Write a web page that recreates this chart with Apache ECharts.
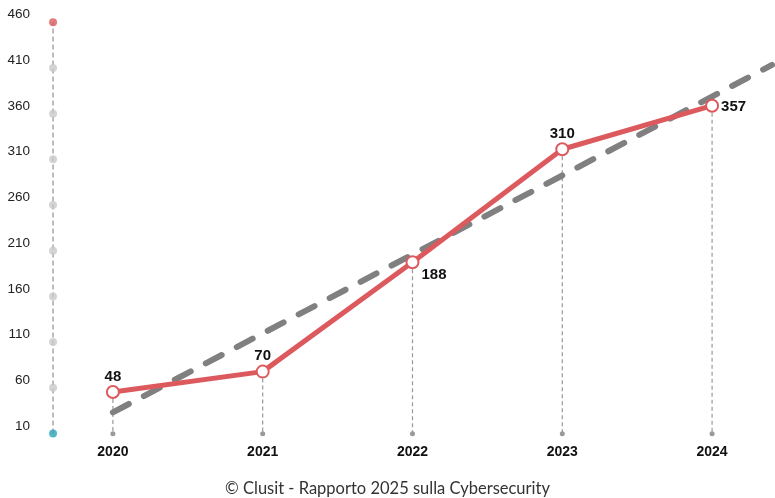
<!DOCTYPE html>
<html>
<head>
<meta charset="utf-8">
<script src="https://cdn.jsdelivr.net/npm/echarts@6/dist/echarts.min.js"></script>
<style>html,body{margin:0;padding:0;background:#fff;overflow:hidden;}#c{width:775px;height:498px;}</style>
</head>
<body>
<div id="c"></div>
<script>
var years = ['2020', '2021', '2022', '2023', '2024'];
var values = [48, 70, 188, 310, 357];
var trendPoints = [[0, 26], [4.4, 401]];
var yTicks = [10, 60, 110, 160, 210, 260, 310, 360, 410, 460];
var footer = '© Clusit - Rapporto 2025 sulla Cybersecurity';

var RED = '#dc5a5e', GRAY = '#808080', TEAL = '#2aa4ba', DOT = '#c9c9c9';
var FONT = 'Liberation Sans, Arial, sans-serif';
var labelPos = [
  {position: 'top', distance: 1},
  {position: 'top', distance: 1},
  {position: 'right', distance: 2, offset: [0, 13]},
  {position: 'top', distance: 1},
  {position: 'right', distance: 2, offset: [0, 1]}
];

var chart = echarts.init(document.getElementById('c'), null, {renderer: 'canvas', width: 775, height: 498});
var XMIN = -0.5, XMAX = 4.4;
var xBase = {type: 'value', min: XMIN, max: XMAX, show: false};
var gridBase = {left: 38, right: 0};

var dropSeries = values.map(function (v, i) {
  return {
    type: 'line', xAxisIndex: 0, yAxisIndex: 0, clip: false, silent: true,
    data: [{value: [i, v], symbol: 'none'}, {value: [i, 3], symbol: 'circle'}],
    symbolSize: 5,
    itemStyle: {color: '#999'},
    lineStyle: {color: '#999', width: 1.2, type: [4, 3]},
    z: 2
  };
});

chart.setOption({
  animation: false,
  grid: [
    Object.assign({top: 10.3, bottom: 70.8}, gridBase),   // data
    Object.assign({top: 14.5, bottom: 72}, gridBase),     // y labels
    Object.assign({top: 22.3, bottom: 64.5}, gridBase)    // dots
  ],
  xAxis: [
    {type: 'value', gridIndex: 0, min: XMIN, max: XMAX, interval: 0.5,
      axisLine: {show: false}, axisTick: {show: false}, splitLine: {show: false},
      axisLabel: {margin: 18, color: '#111', fontWeight: 'bold', fontSize: 14, fontFamily: FONT,
        formatter: function (v) { return (Number.isInteger(v) && years[v]) ? years[v] : ''; }}},
    Object.assign({gridIndex: 1}, xBase),
    Object.assign({gridIndex: 2}, xBase)
  ],
  yAxis: [
    {type: 'value', gridIndex: 0, min: 10, max: 460, show: false},
    {type: 'value', gridIndex: 1, min: 10, max: 460, interval: 50,
      axisLine: {show: false}, axisTick: {show: false}, splitLine: {show: false},
      axisLabel: {margin: 8, color: '#222', fontSize: 13.5, fontFamily: FONT}},
    {type: 'value', gridIndex: 2, min: 10, max: 460, show: false}
  ],
  series: [
    {
      type: 'line', xAxisIndex: 2, yAxisIndex: 2, silent: true,
      data: [[-0.4, yTicks[0]], [-0.4, yTicks[yTicks.length - 1]]],
      symbol: 'none',
      lineStyle: {color: '#999', width: 1.3, type: [5, 3]}
    },
    {
      type: 'scatter', xAxisIndex: 2, yAxisIndex: 2, silent: true,
      symbolSize: 8,
      data: yTicks.map(function (t, i) {
        var c = i === 0 ? TEAL : (i === yTicks.length - 1 ? RED : DOT);
        return {value: [-0.4, t], itemStyle: {color: c}};
      }),
      z: 5
    },
    {
      type: 'line', xAxisIndex: 0, yAxisIndex: 0, silent: true,
      data: trendPoints,
      symbol: 'none',
      lineStyle: {color: GRAY, width: 6, type: [18, 17], cap: 'round'},
      z: 3
    },
    {
      type: 'line', xAxisIndex: 0, yAxisIndex: 0, clip: false,
      data: values.map(function (v, i) {
        return {value: [i, v], label: Object.assign({show: true}, labelPos[i])};
      }),
      symbol: 'circle', symbolSize: 12,
      itemStyle: {color: '#fff', borderColor: RED, borderWidth: 2},
      lineStyle: {color: RED, width: 5},
      label: {color: '#111', fontWeight: 'bold', fontSize: 15, fontFamily: FONT},
      z: 4
    }
  ].concat(dropSeries),
  graphic: [{
    type: 'text', left: 'center', top: 480,
    style: {text: footer, fontSize: 16.5, fill: '#333', fontFamily: 'Lato, sans-serif'}
  }]
});
</script>
</body>
</html>
